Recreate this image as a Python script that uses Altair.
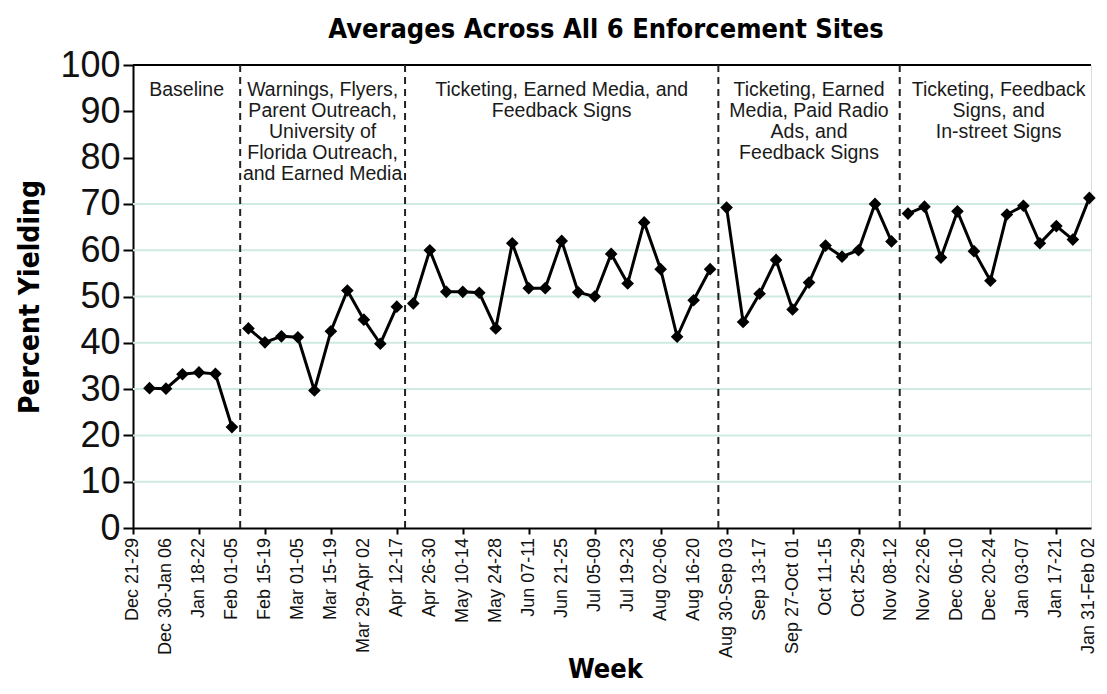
import altair as alt
import pandas as pd

# ---------------- data ----------------
chart_title = ["Averages Across All 6 Enforcement Sites"]

week_labels = ["Dec 21-29", "Dec 30-Jan 06", "Jan 18-22", "Feb 01-05", "Feb 15-19",
               "Mar 01-05", "Mar 15-19", "Mar 29-Apr 02", "Apr 12-17", "Apr 26-30",
               "May 10-14", "May 24-28", "Jun 07-11", "Jun 21-25", "Jul 05-09",
               "Jul 19-23", "Aug 02-06", "Aug 16-20", "Aug 30-Sep 03", "Sep 13-17",
               "Sep 27-Oct 01", "Oct 11-15", "Oct 25-29", "Nov 08-12", "Nov 22-26",
               "Dec 06-10", "Dec 20-24", "Jan 03-07", "Jan 17-21", "Jan 31-Feb 02"]

phase_names = ["Baseline",
               "Warnings, Flyers,\nParent Outreach,\nUniversity of\nFlorida Outreach,\nand Earned Media",
               "Ticketing, Earned Media, and\nFeedback Signs",
               "Ticketing, Earned\nMedia, Paid Radio\nAds, and\nFeedback Signs",
               "Ticketing, Feedback\nSigns, and\nIn-street Signs"]

baseline = [30.2, 30.1, 33.2, 33.6, 33.3, 21.8]
phase2 = [43.1, 40.1, 41.4, 41.2, 29.7, 42.5, 51.3, 45.0, 39.8, 47.8]
phase3 = [48.5, 60.0, 51.0, 51.0, 50.8, 43.1, 61.5, 51.8, 51.8, 62.0, 50.9, 50.0,
          59.2, 52.8, 66.0, 55.9, 41.3, 49.2, 55.9]
phase4 = [69.2, 44.5, 50.6, 57.9, 47.2, 53.0, 61.0, 58.6, 60.0, 70.0, 61.9]
phase5 = [67.9, 69.4, 58.4, 68.4, 59.8, 53.4, 67.7, 69.6, 61.5, 65.2, 62.3, 71.3]

grid_values = [10, 20, 30, 40, 50, 60, 70]

# ---------------- tables ----------------
rows = []
bounds = []
week = 1
for i, vals in enumerate([baseline, phase2, phase3, phase4, phase5]):
    start = week
    for v in vals:
        rows.append({"week": week, "value": v, "phase": i})
        week += 1
    bounds.append((start, week - 1))
df = pd.DataFrame(rows)
n_weeks = week  # positions 0 .. 58 on the axis

label_df = pd.DataFrame({"x": list(range(0, n_weeks, 2)), "label": week_labels})

dividers = pd.DataFrame({"x": [bounds[i][1] + 0.5 for i in range(len(bounds) - 1)]})
left_edges = [0] + [bounds[i][0] - 0.5 for i in range(1, len(bounds))]
right_edges = [bounds[i][1] + 0.5 for i in range(len(bounds) - 1)] + [n_weeks - 0.5]
notes = pd.DataFrame({"x": [(a + b) / 2 for a, b in zip(left_edges, right_edges)],
                      "text": phase_names})
grid_df = pd.DataFrame({"y": grid_values})
top_df = pd.DataFrame({"y": [100]})
title_df = pd.DataFrame({"t": chart_title})

FONT = "Liberation Sans"
COND = "Liberation Sans Narrow, DejaVu Sans Condensed, DejaVu Sans"

x_scale = alt.Scale(domain=[0, 58.1], nice=False, zero=False)
y_scale = alt.Scale(domain=[0, 100], nice=False)

x_axis = alt.Axis(values=list(range(n_weeks)), labels=False,
                  tickSize=6, tickWidth=2, tickColor="black",
                  domainColor="black", domainWidth=2, grid=False,
                  title="Week", titleFont=COND, titleFontSize=27, titleFontWeight="bold",
                  titleX=472, titleY=149, titleBaseline="alphabetic", titleColor="black")
y_axis = alt.Axis(values=list(range(0, 101, 10)), labelFontSize=36, labelFont=FONT,
                  labelColor="#111", labelPadding=3, tickSize=10, tickWidth=2,
                  tickColor="black", domainColor="black", domainWidth=2, grid=False,
                  title="Percent Yielding", titleFont=COND, titleFontSize=28,
                  titleFontWeight="bold", titleX=-103, titleBaseline="middle",
                  titleColor="black", labelOverlap=False)

grid = alt.Chart(grid_df).mark_rule(color="#cfe9e3", strokeWidth=2).encode(
    y=alt.Y("y:Q", scale=y_scale, axis=y_axis))
top = alt.Chart(top_df).mark_rule(color="black", strokeWidth=2).encode(
    y=alt.Y("y:Q", scale=y_scale))
xlabels = alt.Chart(label_df).mark_text(font=FONT, fontSize=18, angle=270, align="right",
                                        baseline="middle", color="#111").encode(
    x=alt.X("x:Q", scale=x_scale, axis=x_axis),
    y=alt.value(473),
    text="label:N")
divs = alt.Chart(dividers).mark_rule(color="#222", strokeWidth=2, strokeDash=[7, 5]).encode(
    x=alt.X("x:Q", scale=x_scale))
lines = alt.Chart(df).mark_line(color="black", strokeWidth=3).encode(
    x=alt.X("week:Q", scale=x_scale),
    y=alt.Y("value:Q", scale=y_scale),
    detail="phase:N")
pts = alt.Chart(df).mark_point(shape="diamond", filled=True, color="black",
                               size=160, opacity=1).encode(
    x=alt.X("week:Q", scale=x_scale),
    y=alt.Y("value:Q", scale=y_scale))
txt = alt.Chart(notes).mark_text(font=FONT, fontSize=19.5, lineBreak="\n", lineHeight=21,
                                 baseline="top", align="center", color="#1a1a1a").encode(
    x=alt.X("x:Q", scale=x_scale),
    y=alt.value(16),
    text="text:N")
ttl = alt.Chart(title_df).mark_text(font=COND, fontSize=27, fontWeight="bold",
                                    baseline="alphabetic", align="center",
                                    color="black").encode(
    x=alt.value(473), y=alt.value(-27), text="t:N")

chart = alt.layer(grid, top, xlabels, divs, lines, pts, txt, ttl).properties(
    width=958, height=463,
    autosize=alt.AutoSizeParams(type="none"),
    padding={"left": 125, "top": 57, "right": 8, "bottom": 154},
).configure_view(stroke=None).configure(background="white")

chart.save("out.html", embed_options={"renderer": "svg", "actions": False})
